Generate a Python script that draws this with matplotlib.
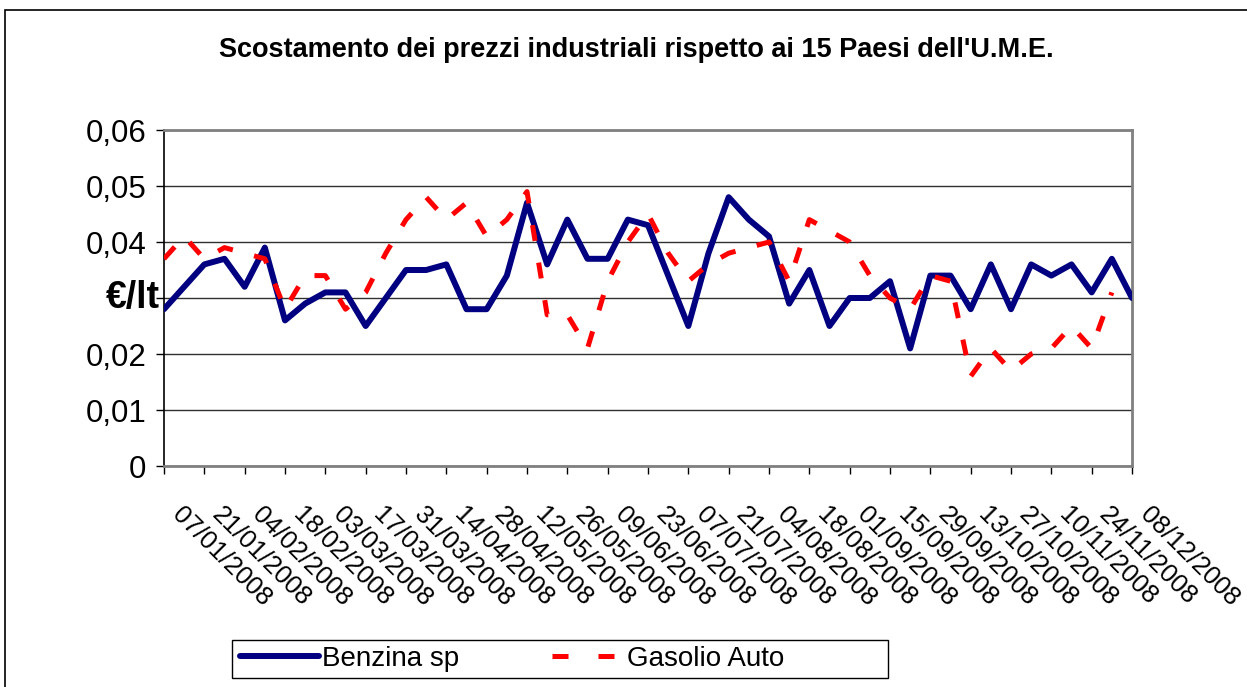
import numpy as np
import matplotlib
matplotlib.use("Agg")
import matplotlib.pyplot as plt
import matplotlib.transforms as mtransforms
from matplotlib.patches import Rectangle
from matplotlib.lines import Line2D

plt.rcParams['font.family'] = ['Liberation Sans', 'DejaVu Sans']

# weekly data, 07/01/2008 -> 08/12/2008 (49 weeks), one label every two weeks
tick_labels = ["07/01/2008", "21/01/2008", "04/02/2008", "18/02/2008", "03/03/2008",
               "17/03/2008", "31/03/2008", "14/04/2008", "28/04/2008", "12/05/2008",
               "26/05/2008", "09/06/2008", "23/06/2008", "07/07/2008", "21/07/2008",
               "04/08/2008", "18/08/2008", "01/09/2008", "15/09/2008", "29/09/2008",
               "13/10/2008", "27/10/2008", "10/11/2008", "24/11/2008", "08/12/2008"]

benzina = [0.028, 0.032, 0.036, 0.037, 0.032, 0.039, 0.026, 0.029, 0.031, 0.031,
           0.025, 0.030, 0.035, 0.035, 0.036, 0.028, 0.028, 0.034, 0.047, 0.036,
           0.044, 0.037, 0.037, 0.044, 0.043, 0.034, 0.025, 0.038, 0.048, 0.044,
           0.041, 0.029, 0.035, 0.025, 0.030, 0.030, 0.033, 0.021, 0.034, 0.034,
           0.028, 0.036, 0.028, 0.036, 0.034, 0.036, 0.031, 0.037, 0.030]

gasolio = [0.037, 0.041, 0.037, 0.039, 0.038, 0.037, 0.028, 0.034, 0.034, 0.028,
           0.031, 0.038, 0.044, 0.048, 0.044, 0.047, 0.041, 0.044, 0.049, 0.027,
           0.027, 0.021, 0.033, 0.040, 0.045, 0.038, 0.033, 0.036, 0.038, 0.039,
           0.040, 0.033, 0.044, 0.042, 0.040, 0.034, 0.030, 0.028, 0.034, 0.033,
           0.016, 0.021, 0.017, 0.020, 0.021, 0.025, 0.021, 0.031, np.nan]

y_ticks = [0, 0.01, 0.02, 0.03, 0.04, 0.05, 0.06]
# the 0,03 label sits under the "€/lt" axis title in the source
y_tick_labels = ["0", "0,01", "0,02", "", "0,04", "0,05", "0,06"]

W, H = 1247, 687
fig = plt.figure(figsize=(W / 100, H / 100), dpi=100)

# chart area border (cut off at right / bottom like the source)
fig.patches.append(Rectangle((5 / W, -0.1), 2, 1.1 - 10 / H, transform=fig.transFigure,
                             fill=False, edgecolor="black", lw=1.2))

ax = fig.add_axes([164 / W, 1 - 466 / H, (1132 - 164) / W, (466 - 130) / H])

x = np.arange(len(benzina))
ax.plot(x, benzina, color="#000080", lw=4.3, solid_joinstyle="round",
        solid_capstyle="round", label="Benzina sp", zorder=3)
ax.plot(x, gasolio, color="#FF0000", lw=3.6, linestyle=(0, (3.2, 4.4)),
        dash_capstyle="butt", label="Gasolio Auto", zorder=4)

ax.set_xlim(0, len(benzina) - 1)
ax.set_ylim(0, 0.06)
ax.set_yticks(y_ticks)
ax.set_yticklabels(y_tick_labels, fontsize=22.5)
ax.set_xticks(x[::2])
ax.set_xticklabels(tick_labels, rotation=-45, ha="left", va="top",
                   rotation_mode="anchor", fontsize=18.5)

ax.tick_params(axis="both", direction="out", length=5.8, width=1.0, color="black")
ax.tick_params(axis="x", pad=0)
ax.tick_params(axis="y", pad=7)

# Excel-style label placement: shifted right and down from the tick
offset = mtransforms.ScaledTranslation(0.20, -0.29, fig.dpi_scale_trans)
for lbl in ax.get_xticklabels():
    lbl.set_transform(lbl.get_transform() + offset)

ax.yaxis.grid(True, color="#303030", lw=1.0)
ax.set_axisbelow(True)
for side in ["top", "right", "bottom"]:
    ax.spines[side].set_color("#808080")
    ax.spines[side].set_linewidth(2.0)
ax.spines["left"].set_color("black")
ax.spines["left"].set_linewidth(1.2)

fig.text(636 / W, 1 - 50 / H,
         "Scostamento dei prezzi industriali rispetto ai 15 Paesi dell'U.M.E.",
         ha="center", va="center", fontsize=19.5, fontweight="bold")

fig.text(160 / W, 1 - 298 / H, "€/lt", ha="right", va="center", fontsize=27,
         fontweight="bold")

# legend (red sample shows two whole dashes, as in the source)
handles = [Line2D([], [], color="#000080", lw=4.3, solid_capstyle="round"),
           Line2D([], [], color="#FF0000", lw=3.6, linestyle=(7.8, (3.2, 6.0)),
                  dash_capstyle="butt")]
fig.legend(handles, ["Benzina sp", "Gasolio Auto"], loc="center left",
           bbox_to_anchor=(226 / W, 1 - 659 / H), ncol=2,
           frameon=False, borderpad=0, handlelength=2.85, handletextpad=0.1,
           columnspacing=3.1, fontsize=20)
fig.patches.append(Rectangle((232 / W, 1 - 678 / H), (888 - 232) / W, 38 / H,
                             transform=fig.transFigure, fill=False,
                             edgecolor="black", lw=1.0))

fig.savefig("out.png", dpi=100)
